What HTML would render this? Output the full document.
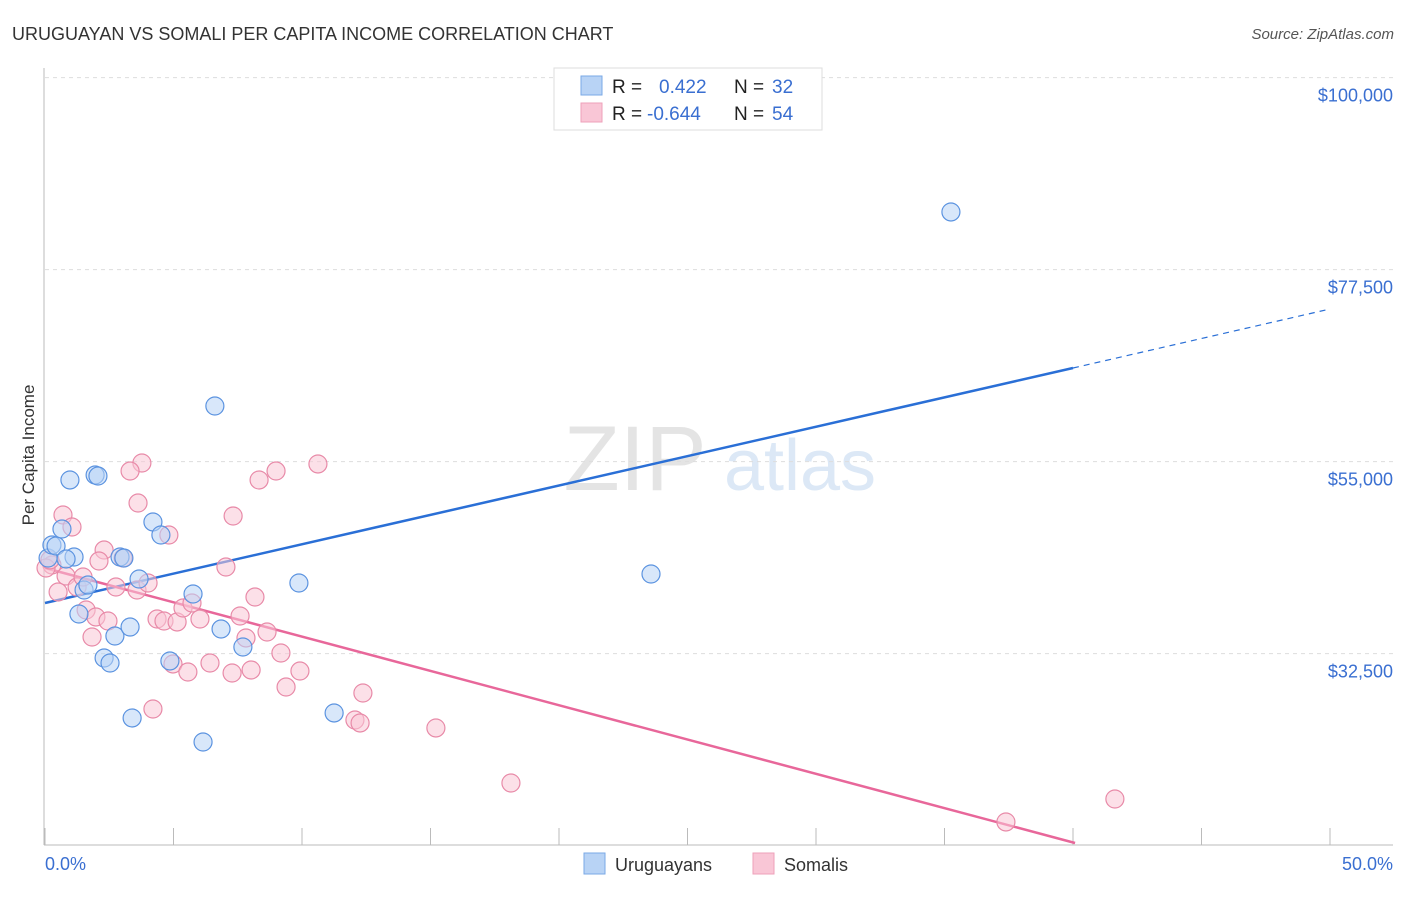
<!DOCTYPE html>
<html><head><meta charset="utf-8"><style>
body{margin:0;background:#fff;font-family:"Liberation Sans",sans-serif;}
svg text{font-family:"Liberation Sans",sans-serif;}
</style></head><body>
<svg id="chart" width="1406" height="892" viewBox="0 0 1406 892" xmlns="http://www.w3.org/2000/svg">
<text x="12" y="40" font-size="18" fill="#333">URUGUAYAN VS SOMALI PER CAPITA INCOME CORRELATION CHART</text>
<text x="1394" y="39" font-size="15" fill="#555" font-style="italic" text-anchor="end">Source: ZipAtlas.com</text>
<g><text x="635" y="490" font-size="92" fill="#e4e4e4" font-family="Liberation Serif" text-anchor="middle">ZIP</text><text x="800" y="490" font-size="72" fill="#dce8f6" text-anchor="middle">atlas</text></g>
<g id="grid"></g>
<g id="axes"></g>
<g id="lines"></g>
<g id="points"></g>
<text x="34" y="455" font-size="17" fill="#333" text-anchor="middle" transform="rotate(-90 34 455)">Per Capita Income</text>
<g>
<rect x="554" y="68" width="268" height="62" fill="#fff" stroke="#ddd"/>
<rect x="581" y="76" width="21" height="19" fill="#b8d3f5" stroke="#7aa8e6"/>
<rect x="581" y="103" width="21" height="19" fill="#f9c6d6" stroke="#eea0ba"/>
<text font-size="19" fill="#222"><tspan x="612" y="93">R =</tspan><tspan x="659" fill="#3a6fd1">0.422</tspan><tspan x="734">N =</tspan><tspan x="772" fill="#3a6fd1">32</tspan></text>
<text font-size="19" fill="#222"><tspan x="612" y="120">R =</tspan><tspan x="647" fill="#3a6fd1">-0.644</tspan><tspan x="734">N =</tspan><tspan x="772" fill="#3a6fd1">54</tspan></text>
</g>
<g>
<rect x="584" y="853" width="21" height="21" fill="#b8d3f5" stroke="#7aa8e6"/>
<text x="615" y="871" font-size="18" fill="#333">Uruguayans</text>
<rect x="753" y="853" width="21" height="21" fill="#f9c6d6" stroke="#eea0ba"/>
<text x="784" y="871" font-size="18" fill="#333">Somalis</text>
</g>
</svg>
<script>
const yTicks=[32500,55000,77500,100000];
const yTickLabels=["$32,500","$55,000","$77,500","$100,000"];
const xTickLabels=["0.0%","50.0%"];
const uruX=[0.12,0.27,0.43,0.66,0.97,1.13,0.82,1.95,2.06,1.32,1.52,1.67,2.72,2.30,2.53,3.31,3.39,2.92,3.07,3.66,4.2,4.51,4.86,5.76,6.15,6.61,6.85,7.7,9.88,11.25,23.58,35.25];
const uruY=[43712,45235,45118,47110,52853,43829,43595,53438,53321,37149,39962,40548,34571,31993,31407,35626,24962,43829,43712,41251,47931,46407,31642,39493,22149,61525,35391,33282,40782,25548,41837,84260];
const somX=[3.77,3.31,3.62,0.70,1.05,4.82,7.32,8.33,8.99,10.62,2.30,2.10,3.04,0.27,0.82,1.25,0.51,1.48,2.76,3.58,4.01,7.04,1.60,1.98,2.45,1.83,4.36,4.63,5.14,6.03,5.37,5.72,8.17,7.59,7.82,8.64,9.18,4.98,5.56,6.42,7.28,8.02,9.92,9.38,12.37,4.20,12.06,12.26,15.21,18.13,41.63,37.39,0.04,0.19];
const somY=[54845,53907,50157,48751,47345,46407,48634,52853,53907,54728,44649,43360,43712,42892,41602,40313,39727,41485,40313,39962,40782,42657,37618,36798,36329,34454,36563,36329,36212,36563,37852,38438,39141,36915,34337,35040,32579,31290,30352,31407,30235,30587,30469,28594,27891,26016,24727,24376,23790,17344,15469,12774,42540,43478];
const uruTrendX=[0,40,50];
const uruTrendY=[38438,65978,72892];
const somTrendX=[0,40.08];
const somTrendY=[42540,10313];
const NS="http://www.w3.org/2000/svg";
const xs=v=>45+v*25.7;
const ys=v=>931-v/117.19;
function mk(tag,attrs,parent){const e=document.createElementNS(NS,tag);for(const k in attrs)e.setAttribute(k,attrs[k]);parent.appendChild(e);return e;}
const grid=document.getElementById('grid'),axes=document.getElementById('axes'),lines=document.getElementById('lines'),pts=document.getElementById('points');
yTicks.forEach((t,i)=>{
 const l=mk('line',{x1:45,x2:1393,y1:ys(t),y2:ys(t),stroke:'#ddd','stroke-dasharray':'4,4'},grid);
 
 
 const tx=mk('text',{x:1393,y:ys(t)+24,'font-size':18,fill:'#3a6fd1','text-anchor':'end'},axes);
 tx.textContent=yTickLabels[i];
 
 
});
const al=mk('line',{x1:44,x2:44,y1:68,y2:845,stroke:'#bbb'},axes);


const bl=mk('line',{x1:44,x2:1393,y1:845,y2:845,stroke:'#bbb'},axes);


for(let i=0;i<=10;i++){
 const tk=mk('line',{x1:xs(i*5),x2:xs(i*5),y1:828,y2:845,stroke:'#bbb'},axes);
 
 
}
const xl0=mk('text',{x:45,y:870,'font-size':18,fill:'#3a6fd1'},axes);xl0.textContent=xTickLabels[0];


const xl1=mk('text',{x:1393,y:870,'font-size':18,fill:'#3a6fd1','text-anchor':'end'},axes);xl1.textContent=xTickLabels[1];


function pt(xa,ya,fill,stroke,name){xa.forEach((x,i)=>{const c=mk('circle',{cx:xs(x),cy:ys(ya[i]),r:9,fill:fill,'fill-opacity':0.55,stroke:stroke,'stroke-width':1.2},pts);
 
 });}
pt(somX,somY,'#f9c6d6','#e88aa8','somali-point');
pt(uruX,uruY,'#b8d3f5','#5b93e0','uruguayan-point');
const b1=mk('line',{x1:xs(uruTrendX[0]),y1:ys(uruTrendY[0]),x2:xs(uruTrendX[1]),y2:ys(uruTrendY[1]),stroke:'#2a6fd6','stroke-width':2.5},lines);


const b2=mk('line',{x1:xs(uruTrendX[1]),y1:ys(uruTrendY[1]),x2:xs(uruTrendX[2]),y2:ys(uruTrendY[2]),stroke:'#2a6fd6','stroke-width':1.2,'stroke-dasharray':'6,5'},lines);


const p1=mk('line',{x1:xs(somTrendX[0]),y1:ys(somTrendY[0]),x2:xs(somTrendX[1]),y2:ys(somTrendY[1]),stroke:'#e8679a','stroke-width':2.5},lines);


</script>
</body></html>
